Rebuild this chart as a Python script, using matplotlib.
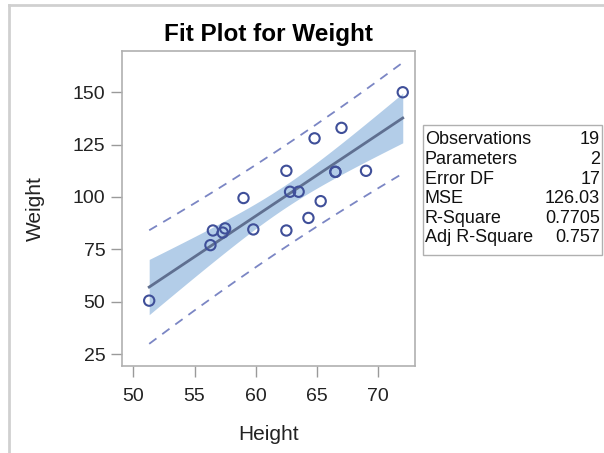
import numpy as np
import matplotlib.pyplot as plt
from matplotlib.patches import Rectangle
from matplotlib.lines import Line2D

plt.rcParams['font.family'] = ['Liberation Sans', 'DejaVu Sans']

# sashelp.class
height = np.array([69.0, 56.5, 65.3, 62.8, 63.5, 57.3, 59.8, 62.5, 62.5, 59.0,
                   51.3, 64.3, 56.3, 66.5, 72.0, 64.8, 67.0, 57.5, 66.5])
weight = np.array([112.5, 84.0, 98.0, 102.5, 102.5, 83.0, 84.5, 112.5, 84.0, 99.5,
                   50.5, 90.0, 77.0, 112.0, 150.0, 128.0, 133.0, 85.0, 112.0])

stat_names = ['Observations', 'Parameters', 'Error DF', 'MSE', 'R-Square', 'Adj R-Square']
stat_values = ['19', '2', '17', '126.03', '0.7705', '0.757']

t_crit = 2.109816  # t(0.975, 17)

# least squares fit and 95% limits
b1, b0 = np.polyfit(height, weight, 1)
n = len(height)
resid = weight - (b0 + b1 * height)
mse = np.sum(resid ** 2) / (n - 2)
xbar = height.mean()
sxx = np.sum((height - xbar) ** 2)
xs = np.linspace(height.min(), height.max(), 200)
fit = b0 + b1 * xs
se_mean = np.sqrt(mse * (1 / n + (xs - xbar) ** 2 / sxx))
se_pred = np.sqrt(mse * (1 + 1 / n + (xs - xbar) ** 2 / sxx))

W, H = 604, 453
fig = plt.figure(figsize=(W / 100, H / 100), dpi=100)
fig.patch.set_facecolor('white')

# plot area in pixels: left 122, top 51, right 415, bottom 366
ax = fig.add_axes([122 / W, 1 - 366 / H, (415 - 122) / W, (366 - 51) / H])

ax.fill_between(xs, fit - t_crit * se_mean, fit + t_crit * se_mean,
                color='#b3cde8', lw=0, zorder=1)
ax.plot(xs, fit, color='#5f6f90', lw=2, zorder=3)
ax.plot(xs, fit - t_crit * se_pred, color='#7b86c4', lw=1.3, ls=(0, (5, 4)), zorder=2)
ax.plot(xs, fit + t_crit * se_pred, color='#7b86c4', lw=1.3, ls=(0, (5, 4)), zorder=2)
ax.scatter(height, weight, s=55, facecolors='none', edgecolors='#3f4f99',
           linewidths=1.5, zorder=4)

ax.set_xlim(49.08, 73.0)
ax.set_ylim(19.3, 169.7)
ax.set_xticks([50, 55, 60, 65, 70])
ax.set_yticks([25, 50, 75, 100, 125, 150])
ax.tick_params(colors='#9a9a9a', labelcolor='#222222', labelsize=14, length=8, width=1)
ax.tick_params(axis='x', pad=8)
ax.tick_params(axis='y', pad=4)
for s in ax.spines.values():
    s.set_color('#b0b0b0')
    s.set_linewidth(1.2)

ax.set_xlabel('Height', fontsize=15, color='#222222', labelpad=14)
ax.set_ylabel('Weight', fontsize=15, color='#222222', labelpad=20)
ax.set_title('Fit Plot for Weight', fontsize=17.5, fontweight='bold', pad=7)

# statistics box
fig.patches.append(Rectangle((423 / W, 1 - 255 / H), (602 - 423) / W, (255 - 125) / H,
                             transform=fig.transFigure, fill=False,
                             edgecolor='#b0b0b0', lw=1))
for i, (nm, val) in enumerate(zip(stat_names, stat_values)):
    yy = 1 - (140 + i * 19.6) / H
    fig.text(425 / W, yy, nm, fontsize=13, va='center', ha='left', color='#111111')
    fig.text(600 / W, yy, val, fontsize=13, va='center', ha='right', color='#111111')

# outer frame edges (top and left)
fig.lines.append(Line2D([9 / W, 1], [1 - 4.5 / H, 1 - 4.5 / H], transform=fig.transFigure,
                        color='#d0d0d0', lw=2))
fig.lines.append(Line2D([9 / W, 9 / W], [0, 1 - 4.5 / H], transform=fig.transFigure,
                        color='#d0d0d0', lw=2))

fig.savefig('out.png', dpi=100)
